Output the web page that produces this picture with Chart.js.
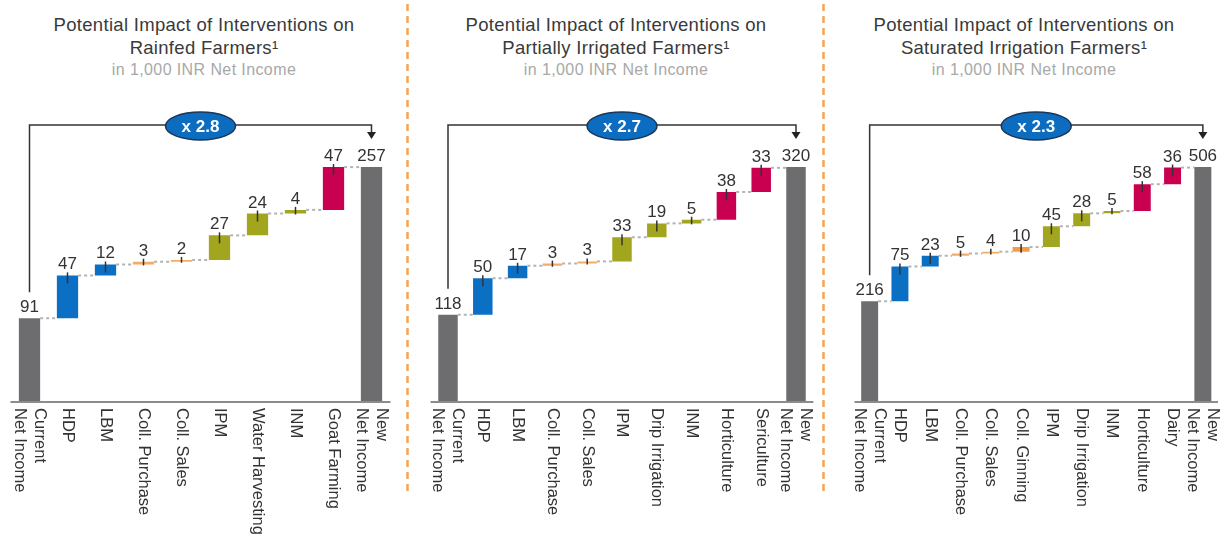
<!DOCTYPE html>
<html>
<head>
<meta charset="utf-8">
<script src="https://cdn.jsdelivr.net/npm/chart.js@4.4.0/dist/chart.umd.min.js"></script>
<style>
  body { margin: 0; background: #fff; width: 1222px; height: 538px; position: relative; overflow: hidden;
         font-family: "Liberation Sans", Arial, sans-serif; }
  .titulo { position: absolute; top: 13px; text-align: center; color: #3a3a3a; font-size: 18.5px;
            letter-spacing: 0.3px; line-height: 23px; }
  .titulo .sub { color: #a8a8a8; font-size: 16px; letter-spacing: 0.4px; line-height: 22px; }
  canvas { position: absolute; top: 90px; }
  svg { position: absolute; left: 0; top: 0; }
</style>
</head>
<body>
<div class="titulo" style="left:0;width:408px">Potential Impact of Interventions on<br>Rainfed Farmers¹<div class="sub">in 1,000 INR Net Income</div></div>
<div class="titulo" style="left:410px;width:412px">Potential Impact of Interventions on<br>Partially Irrigated Farmers¹<div class="sub">in 1,000 INR Net Income</div></div>
<div class="titulo" style="left:826px;width:396px">Potential Impact of Interventions on<br>Saturated Irrigation Farmers¹<div class="sub">in 1,000 INR Net Income</div></div>

<svg width="1222" height="538">
  <line x1="407.5" y1="4" x2="407.5" y2="496" stroke="#f4a55a" stroke-width="2.5" stroke-dasharray="7 5"/>
  <line x1="823.5" y1="4" x2="823.5" y2="496" stroke="#f4a55a" stroke-width="2.5" stroke-dasharray="7 5"/>
</svg>

<canvas id="cascada-secano" width="408" height="448" style="left:0"></canvas>
<canvas id="cascada-parcial" width="412" height="448" style="left:410px"></canvas>
<canvas id="cascada-saturado" width="396" height="448" style="left:826px"></canvas>

<script>
// Agricultores de secano
const etiquetasSecano = [['Current', 'Net Income'], 'HDP', 'LBM', 'Coll. Purchase', 'Coll. Sales', 'IPM',
    'Water Harvesting', 'INM', 'Goat Farming', ['New', 'Net Income']];
const valoresSecano = [91, 47, 12, 3, 2, 27, 24, 4, 47, 257];

// Riego parcial
const etiquetasParcial = [['Current', 'Net Income'], 'HDP', 'LBM', 'Coll. Purchase', 'Coll. Sales', 'IPM',
    'Drip Irrigation', 'INM', 'Horticulture', 'Sericulture', ['New', 'Net Income']];
const valoresParcial = [118, 50, 17, 3, 3, 33, 19, 5, 38, 33, 320];

// Riego saturado
const etiquetasSaturado = [['Current', 'Net Income'], 'HDP', 'LBM', 'Coll. Purchase', 'Coll. Sales', 'Coll. Ginning',
    'IPM', 'Drip Irrigation', 'INM', 'Horticulture', 'Dairy', ['New', 'Net Income']];
const valoresSaturado = [216, 75, 23, 5, 4, 10, 45, 28, 5, 58, 36, 506];

const GRIS = '#6d6d6f';
const AZUL = '#0b6fc3';
const NARANJA = '#f7aa62';
const OLIVA = '#a2a61e';
const CARMIN = '#c8004f';

const coloresIntervencion = {
    'HDP': AZUL, 'LBM': AZUL,
    'Coll. Purchase': NARANJA, 'Coll. Sales': NARANJA, 'Coll. Ginning': '#f39c45',
    'IPM': OLIVA, 'Water Harvesting': OLIVA, 'Drip Irrigation': OLIVA, 'INM': OLIVA,
    'Goat Farming': CARMIN, 'Horticulture': CARMIN, 'Sericulture': CARMIN, 'Dairy': CARMIN
};

const FUENTE = '"Liberation Sans", Arial, sans-serif';

const pluginCascada = {
    id: 'cascada',
    afterDatasetsDraw(chart) {
        const ctx = chart.ctx;
        const area = chart.chartArea;
        const barras = chart.getDatasetMeta(0).data;
        const valores = chart.$valores;
        const n = barras.length;

        ctx.save();

        // conectores punteados entre barras
        ctx.strokeStyle = '#b3b3b3';
        ctx.lineWidth = 2;
        ctx.setLineDash([3, 3]);
        for (let i = 0; i < n - 1; i++) {
            const a = barras[i], b = barras[i + 1];
            ctx.beginPath();
            ctx.moveTo(a.x + a.width / 2, a.y);
            ctx.lineTo(b.x - b.width / 2, a.y);
            ctx.stroke();
        }
        ctx.setLineDash([]);

        // marcas cortas en las barras de intervención
        ctx.strokeStyle = '#333';
        ctx.lineWidth = 1.5;
        for (let i = 1; i < n - 1; i++) {
            const b = barras[i];
            ctx.beginPath();
            ctx.moveTo(b.x, b.y - 3);
            ctx.lineTo(b.x, Math.min(b.y + 8, b.base + 1));
            ctx.stroke();
        }

        // valores
        ctx.fillStyle = '#333';
        ctx.font = '17px ' + FUENTE;
        ctx.textAlign = 'center';
        ctx.textBaseline = 'alphabetic';
        barras.forEach((b, i) => ctx.fillText(String(valores[i]), b.x, b.y - 6));

        // eje horizontal
        ctx.strokeStyle = '#8c8c8c';
        ctx.lineWidth = 2;
        ctx.beginPath();
        ctx.moveTo(area.left, area.bottom + 1);
        ctx.lineTo(area.right, area.bottom + 1);
        ctx.stroke();

        // etiquetas de categoría giradas
        ctx.fillStyle = '#333';
        ctx.font = '16.5px ' + FUENTE;
        ctx.textAlign = 'left';
        ctx.textBaseline = 'middle';
        chart.data.labels.forEach((etq, i) => {
            const lineas = Array.isArray(etq) ? etq : [etq];
            ctx.save();
            ctx.translate(barras[i].x, area.bottom + 7);
            ctx.rotate(Math.PI / 2);
            lineas.forEach((t, j) => ctx.fillText(t, 0, (j - (lineas.length - 1) / 2) * 20));
            ctx.restore();
        });

        // corchete con flecha y multiplicador
        const primera = barras[0], ultima = barras[n - 1];
        const yCorchete = area.top;
        const puntaFlecha = ultima.y - 28;
        ctx.strokeStyle = '#333';
        ctx.lineWidth = 1.5;
        ctx.beginPath();
        ctx.moveTo(primera.x, primera.y - 26);
        ctx.lineTo(primera.x, yCorchete);
        ctx.lineTo(ultima.x, yCorchete);
        ctx.lineTo(ultima.x, puntaFlecha - 6);
        ctx.stroke();
        ctx.fillStyle = '#222';
        ctx.beginPath();
        ctx.moveTo(ultima.x - 4.5, puntaFlecha - 7);
        ctx.lineTo(ultima.x + 4.5, puntaFlecha - 7);
        ctx.lineTo(ultima.x, puntaFlecha);
        ctx.closePath();
        ctx.fill();

        const cx = (primera.x + ultima.x) / 2;
        ctx.beginPath();
        ctx.ellipse(cx, yCorchete + 1, 35, 14, 0, 0, Math.PI * 2);
        ctx.fillStyle = '#0b6cc0';
        ctx.fill();
        ctx.strokeStyle = '#1b3656';
        ctx.lineWidth = 1.5;
        ctx.stroke();
        ctx.fillStyle = '#fff';
        ctx.font = 'bold 17px ' + FUENTE;
        ctx.textAlign = 'center';
        ctx.textBaseline = 'middle';
        const factor = valores[n - 1] / valores[0];
        ctx.fillText('x ' + factor.toFixed(1), cx, yCorchete + 2);

        ctx.restore();
    }
};

function crearCascada(id, etiquetas, valores, relleno) {
    const n = valores.length;
    const total = valores[n - 1];

    let acumulado = 0;
    const tramos = valores.map((v, i) => {
        if (i === 0) { acumulado = v; return [0, v]; }
        if (i === n - 1) return [0, v];
        const inicio = acumulado;
        acumulado += v;
        return [inicio, acumulado];
    });

    const colores = etiquetas.map((e, i) =>
        (i === 0 || i === n - 1) ? GRIS : coloresIntervencion[e]);

    const grafico = new Chart(document.getElementById(id).getContext('2d'), {
        type: 'bar',
        data: {
            labels: etiquetas,
            datasets: [{
                data: tramos,
                backgroundColor: colores,
                borderSkipped: false,
                categoryPercentage: 1,
                barPercentage: 0.56
            }]
        },
        options: {
            responsive: false,
            animation: false,
            layout: { padding: relleno },
            scales: {
                x: { display: false },
                y: { display: false, min: 0, max: total * 1.18 }
            },
            plugins: {
                legend: { display: false },
                tooltip: { enabled: false }
            }
        },
        plugins: [{
            id: 'valores',
            beforeInit(chart) { chart.$valores = valores; }
        }, pluginCascada]
    });
    return grafico;
}

crearCascada('cascada-secano', etiquetasSecano, valoresSecano,
    { top: 35, bottom: 137, left: 10.5, right: 17.5 });
crearCascada('cascada-parcial', etiquetasParcial, valoresParcial,
    { top: 35, bottom: 137, left: 20.6, right: 8.6 });
crearCascada('cascada-saturado', etiquetasSaturado, valoresSaturado,
    { top: 35, bottom: 137, left: 28.5, right: 4 });
</script>
</body>
</html>
